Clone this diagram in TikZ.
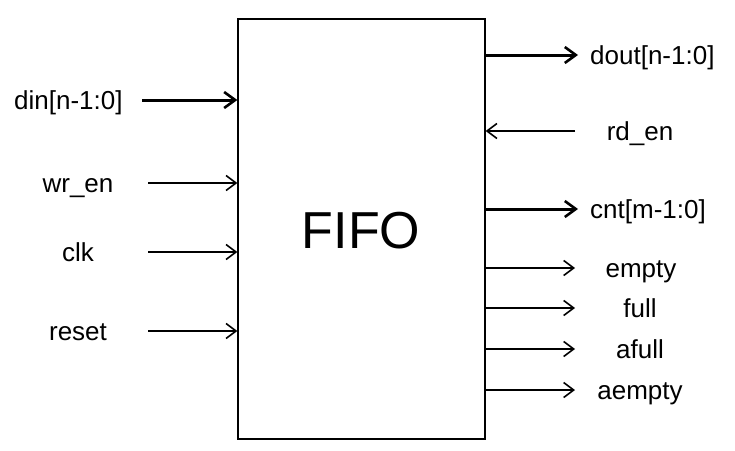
\documentclass[tikz,border=0pt]{standalone}
\usepackage{fontspec}
\setmainfont{Liberation Sans}
\usetikzlibrary{arrows.meta}
\begin{document}
\begin{tikzpicture}[x=1pt,y=-1pt,
  lbl/.style={font=\fontsize{26}{30}\selectfont, inner sep=0pt, anchor=mid, yshift=-7pt},
  lblw/.style={lbl, anchor=mid west},
  sig/.style={line width=1.4pt,-{Straight Barb[length=10pt,width=15pt,line width=1.6pt]}},
  bus/.style={line width=3pt,-{Straight Barb[length=11pt,width=16pt,line width=2.6pt]}}]
\useasboundingbox (0,0) rectangle (735,450);
\node[draw, line width=1.3pt, minimum width=247pt, minimum height=420pt, inner sep=0pt] (fifo) at (361.5,229) {};
\node[font=\fontsize{52}{60}\selectfont, inner sep=0pt] (title) at (361,231) {FIFO};
% inputs
\node[lblw] (din) at (14,100) {din[n-1:0]};
\coordinate (dinT) at (142,100);
\draw[bus] (dinT) -- (dinT -| fifo.west);
\node[lbl] (wren) at (78,183) {wr\_en};
\coordinate (wrenT) at (148,183);
\draw[sig] (wrenT) -- (wrenT -| fifo.west);
\node[lbl] (clk) at (78,252) {clk};
\coordinate (clkT) at (148,252);
\draw[sig] (clkT) -- (clkT -| fifo.west);
\node[lbl] (reset) at (78,331) {reset};
\coordinate (resetT) at (148,331);
\draw[sig] (resetT) -- (resetT -| fifo.west);
% right side
\node[lblw] (dout) at (590,55) {dout[n-1:0]};
\coordinate (doutT) at (578,55);
\draw[bus] (doutT -| fifo.east) -- (doutT);
\node[lbl] (rden) at (640,131) {rd\_en};
\coordinate (rdenT) at (575,131);
\draw[sig] (rdenT) -- (rdenT -| fifo.east);
\node[lblw] (cnt) at (590,209) {cnt[m-1:0]};
\coordinate (cntT) at (578,209);
\draw[bus] (cntT -| fifo.east) -- (cntT);
\node[lbl] (empty) at (641,268) {empty};
\coordinate (emptyT) at (575,268);
\draw[sig] (emptyT -| fifo.east) -- (emptyT);
\node[lbl] (full) at (640,308) {full};
\coordinate (fullT) at (575,308);
\draw[sig] (fullT -| fifo.east) -- (fullT);
\node[lbl] (afull) at (640,349) {afull};
\coordinate (afullT) at (575,349);
\draw[sig] (afullT -| fifo.east) -- (afullT);
\node[lbl] (aempty) at (640,390) {aempty};
\coordinate (aemptyT) at (575,390);
\draw[sig] (aemptyT -| fifo.east) -- (aemptyT);
\end{tikzpicture}
\end{document}
